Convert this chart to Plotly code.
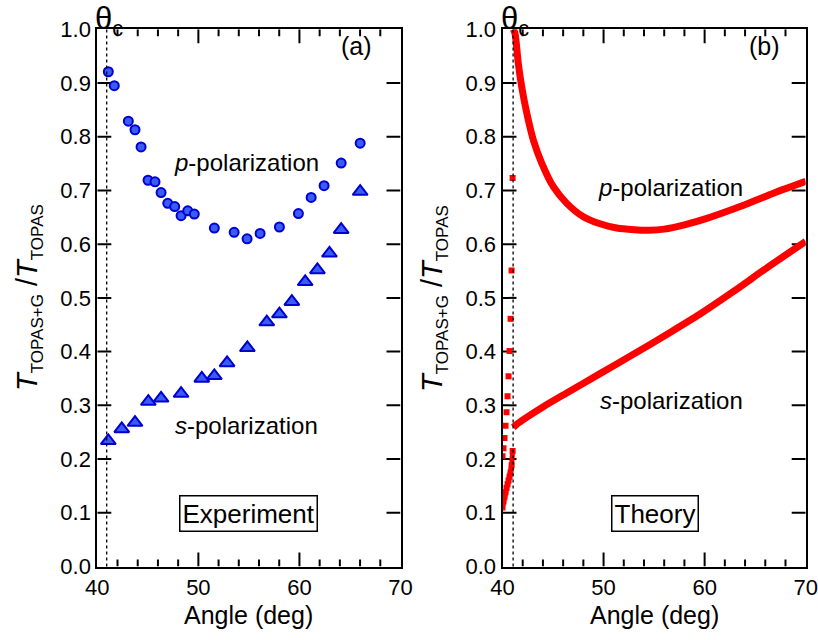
import plotly.graph_objects as go

# ---------------- data ----------------
exp_p_angle = [41.09, 41.68, 43.07, 43.73, 44.33, 45.02, 45.71, 46.31, 46.97, 47.66,
               48.29, 48.95, 49.60, 51.58, 53.54, 54.82, 56.11, 58.02, 59.90, 61.16,
               62.44, 64.13, 66.01]
exp_p_ratio = [0.921, 0.895, 0.829, 0.813, 0.781, 0.719, 0.716, 0.696, 0.676, 0.670,
               0.653, 0.662, 0.656, 0.630, 0.622, 0.610, 0.620, 0.632, 0.657, 0.687,
               0.709, 0.751, 0.788]

exp_s_angle = [41.09, 42.42, 43.73, 45.05, 46.31, 48.29, 50.34, 51.58, 52.84, 54.85,
               56.77, 58.02, 59.25, 60.57, 61.78, 62.97, 64.13, 66.01]
exp_s_ratio = [0.234, 0.256, 0.268, 0.307, 0.313, 0.322, 0.350, 0.355, 0.379, 0.407,
               0.455, 0.470, 0.493, 0.530, 0.552, 0.583, 0.627, 0.698]

th_p_angle = [41.07, 41.24, 41.56, 41.90, 42.40, 43.05, 43.88, 45.03, 46.36, 48.00,
              49.65, 51.31, 53.0, 54.5, 56.0, 58.0, 60.22, 63.51, 66.81, 70.0]
th_p_ratio = [1.000, 0.992, 0.937, 0.893, 0.844, 0.794, 0.751, 0.707, 0.676, 0.651,
              0.638, 0.630, 0.627, 0.626, 0.628, 0.636, 0.648, 0.670, 0.695, 0.717]

th_s_angle = [41.07, 41.5, 42.5, 44.0, 46.35, 49.65, 52.95, 56.25, 59.55, 62.86, 66.16, 70.0]
th_s_ratio = [0.259, 0.266, 0.279, 0.297, 0.323, 0.359, 0.395, 0.432, 0.470, 0.512, 0.556, 0.605]

th_p_below_angle = [40.0, 40.1, 40.2, 40.3, 40.4, 40.5, 40.6, 40.7, 40.8, 40.9, 41.0]
th_p_below_ratio = [0.205, 0.220, 0.239, 0.262, 0.287, 0.317, 0.354, 0.401, 0.461, 0.551, 0.723]

th_s_below_angle = [40.0, 40.1, 40.2, 40.3, 40.4, 40.5, 40.6, 40.7, 40.8, 40.9, 41.0]
th_s_below_ratio = [0.110, 0.121, 0.130, 0.138, 0.146, 0.153, 0.160, 0.167, 0.175, 0.188, 0.215]

theta_c_exp = 40.93
theta_c_theory = 41.05

x_ticks = [40, 50, 60, 70]
x_minor_ticks = [42, 44, 46, 48, 52, 54, 56, 58, 62, 64, 66, 68]
y_ticks = [0.0, 0.1, 0.2, 0.3, 0.4, 0.5, 0.6, 0.7, 0.8, 0.9, 1.0]
y_tick_labels = ["0.0", "0.1", "0.2", "0.3", "0.4", "0.5", "0.6", "0.7", "0.8", "0.9", "1.0"]

# ---------------- figure ----------------
W, H = 818, 640
BLUE_FILL = "#3a5cf2"
BLUE_LINE = "#0000d4"
RED = "#ff0000"
FONT = "Liberation Sans, Arial, Helvetica, sans-serif"
X_RANGE = [40, 70]
Y_RANGE = [0, 1.0]


def px(x):
    return x / W


def py(y):
    return 1 - y / H


xdom1 = [px(97.3), px(400.5)]
xdom2 = [px(502.5), px(805.7)]
ydom = [py(566.5), py(29.3)]
plot_w = 303.2
plot_h = 537.2

fig = go.Figure()

# tick marks on all four sides of each panel (placed through the axes from the tick lists)
x_span = X_RANGE[1] - X_RANGE[0]
y_span = Y_RANGE[1] - Y_RANGE[0]
for xr, yr in (("x", "y"), ("x2", "y2")):
    tx, ty = [], []
    for xv, ln in [(v, 14) for v in x_ticks[1:-1]] + [(v, 7) for v in x_minor_ticks]:
        d = ln / plot_h * y_span
        tx += [xv, xv, None, xv, xv, None]
        ty += [Y_RANGE[0], Y_RANGE[0] + d, None, Y_RANGE[1] - d, Y_RANGE[1], None]
    dx = 14 / plot_w * x_span
    for yv in y_ticks[1:-1]:
        tx += [X_RANGE[0], X_RANGE[0] + dx, None, X_RANGE[1] - dx, X_RANGE[1], None]
        ty += [yv, yv, None, yv, yv, None]
    fig.add_trace(go.Scatter(x=tx, y=ty, mode="lines", line=dict(color="black", width=2),
                             hoverinfo="skip", connectgaps=False, xaxis=xr, yaxis=yr))

# Experiment
fig.add_trace(go.Scatter(x=exp_p_angle, y=exp_p_ratio, mode="markers",
                         marker=dict(symbol="circle", size=9, color=BLUE_FILL,
                                     line=dict(color=BLUE_LINE, width=2)),
                         xaxis="x", yaxis="y"))
fig.add_trace(go.Scatter(x=exp_s_angle, y=exp_s_ratio, mode="markers",
                         marker=dict(symbol="triangle-up", size=13, color=BLUE_FILL,
                                     line=dict(color=BLUE_LINE, width=2)),
                         xaxis="x", yaxis="y"))

# Theory
fig.add_trace(go.Scatter(x=th_p_angle, y=th_p_ratio, mode="lines",
                         line=dict(color=RED, width=7, shape="spline", smoothing=0.8),
                         xaxis="x2", yaxis="y2"))
fig.add_trace(go.Scatter(x=th_s_angle, y=th_s_ratio, mode="lines",
                         line=dict(color=RED, width=7, shape="spline", smoothing=0.8),
                         xaxis="x2", yaxis="y2"))
fig.add_trace(go.Scatter(x=th_p_below_angle, y=th_p_below_ratio, mode="markers",
                         marker=dict(symbol="square", size=6, color=RED, line=dict(width=0)),
                         xaxis="x2", yaxis="y2"))
fig.add_trace(go.Scatter(x=th_s_below_angle, y=th_s_below_ratio, mode="lines+markers",
                         line=dict(color=RED, width=5),
                         marker=dict(symbol="square", size=6, color=RED, line=dict(width=0)),
                         xaxis="x2", yaxis="y2"))

axis_common = dict(showline=True, linecolor="#000000", linewidth=2, mirror=True,
                   ticks="", showgrid=False, zeroline=False, automargin=False,
                   tickfont=dict(size=22, family=FONT, color="black"))

xax = dict(axis_common, range=X_RANGE, tickmode="array", tickvals=x_ticks)
yax = dict(axis_common, range=Y_RANGE, tickmode="array", tickvals=y_ticks,
           ticktext=y_tick_labels)

fig.update_layout(
    template="none",
    width=W, height=H,
    margin=dict(l=0, r=0, t=0, b=0),
    plot_bgcolor="white", paper_bgcolor="white",
    showlegend=False,
    font=dict(family=FONT, color="black"),
    xaxis=dict(xax, domain=xdom1, anchor="y"),
    yaxis=dict(yax, domain=ydom, anchor="x"),
    xaxis2=dict(xax, domain=xdom2, anchor="y2"),
    yaxis2=dict(yax, domain=ydom, anchor="x2"),
)

# critical angle dotted lines
for xr, yr, th in (("x", "y", theta_c_exp), ("x2", "y2", theta_c_theory)):
    fig.add_shape(type="line", xref=xr, yref=yr + " domain", x0=th, x1=th, y0=0, y1=1,
                  line=dict(color="black", width=1.3, dash="dot"))

ann = []


def text(x, y, t, size, **kw):
    d = dict(x=px(x), y=py(y), xref="paper", yref="paper", text=t, showarrow=False,
             font=dict(size=size, family=FONT, color="black"),
             xanchor="center", yanchor="middle")
    d.update(kw)
    ann.append(d)


ytitle = ("<i>T</i><sub><span style='font-size:17px'>TOPAS+G</span></sub>"
          " /<i>T</i><sub><span style='font-size:17px'>TOPAS</span></sub>")
text(29, 298, ytitle, 29, textangle=-90)
text(434, 298, ytitle, 29, textangle=-90)
text(248, 615, "Angle (deg)", 25)
text(654, 615, "Angle (deg)", 25)
text(356, 46, "(a)", 25)
text(764, 46, "(b)", 25)
text(246, 163, "<i>p</i>-polarization", 24)
text(246, 425, "<i>s</i>-polarization", 24)
text(670, 187, "<i>p</i>-polarization", 24)
text(671, 400, "<i>s</i>-polarization", 24)
text(248, 513, "Experiment", 26, bordercolor="black", borderwidth=1.5, borderpad=2)
text(655, 513, "Theory", 26, bordercolor="black", borderwidth=1.5, borderpad=2)
text(94, 0, "θ<sub>c</sub>", 31, xanchor="left", yanchor="top", borderpad=0)
text(500, 0, "θ<sub>c</sub>", 31, xanchor="left", yanchor="top", borderpad=0)

fig.update_layout(annotations=ann)

fig.write_html("out.html")
